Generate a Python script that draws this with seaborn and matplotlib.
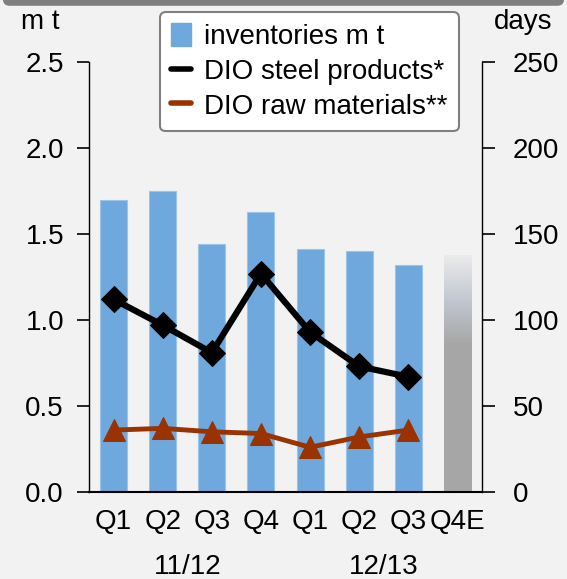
import numpy as np
import pandas as pd
import matplotlib
matplotlib.use("Agg")
import matplotlib.pyplot as plt
from matplotlib.colors import LinearSegmentedColormap
from matplotlib.lines import Line2D
from matplotlib.patches import Patch, FancyBboxPatch
import seaborn as sns

# data
quarters = ["Q1", "Q2", "Q3", "Q4", "Q1", "Q2", "Q3", "Q4E"]
inventories = [1.70, 1.75, 1.44, 1.63, 1.41, 1.40, 1.32, 1.38]
dio_steel = [112, 97, 81, 127, 93, 73, 67]
dio_raw = [36, 37, 35, 34, 26, 32, 36]
years = ["11/12", "12/13"]
year_pos = [1.5, 5.5]

BG = "#f2f2f2"
BLUE = "#6fa8dc"
RED = "#993300"
FS = 20

sns.set_style("white")
plt.rcParams["font.family"] = ["Liberation Sans", "DejaVu Sans"]
plt.rcParams["font.size"] = FS
plt.rcParams["text.color"] = "black"
plt.rcParams["xtick.color"] = "black"
plt.rcParams["ytick.color"] = "black"

fig = plt.figure(figsize=(5.67, 5.79), dpi=100, facecolor=BG)
ax = fig.add_axes([89 / 567, 87 / 579, 393 / 567, 430 / 579], facecolor=BG)

bars = pd.DataFrame({"pos": range(len(quarters)), "inv": inventories})
sns.barplot(data=bars, x="pos", y="inv", hue="pos", palette=[BLUE] * 7 + ["#a6a6a6"],
            legend=False, width=0.55, saturation=1, edgecolor="#9cc3e8", linewidth=0.8, ax=ax)

# gradient fill on the estimate bar
last = ax.patches[-1]
last.set_edgecolor("none")
cmap = LinearSegmentedColormap.from_list(
    "est", [(0, "#a6a6a6"), (0.62, "#a6a6a6"), (0.80, "#c0c6d0"), (1, "#ececec")])
grad = np.linspace(0, 1, 256).reshape(-1, 1)
img = ax.imshow(grad, cmap=cmap, origin="lower", aspect="auto",
                extent=[last.get_x(), last.get_x() + last.get_width(), 0, last.get_height()],
                zorder=last.get_zorder() + 0.1)
img.set_clip_path(last)

ax.set_ylim(0, 2.5)
ax.set_yticks([0, 0.5, 1.0, 1.5, 2.0, 2.5])
ax.set_yticklabels(["0.0", "0.5", "1.0", "1.5", "2.0", "2.5"])

ax2 = ax.twinx()
sns.lineplot(x=list(range(len(dio_steel))), y=dio_steel, ax=ax2, color="black",
             linewidth=4.5, marker="D", markersize=13, markeredgecolor="black")
sns.lineplot(x=list(range(len(dio_raw))), y=dio_raw, ax=ax2, color=RED,
             linewidth=3.5, marker="^", markersize=16, markeredgecolor=RED)
ax2.set_ylim(0, 250)
ax2.set_yticks([0, 50, 100, 150, 200, 250])
ax.set_xlim(-0.5, 7.5)
ax.set_xticks(range(len(quarters)))
ax.set_xticklabels(quarters)
ax.set_xlabel("")
ax.set_ylabel("")
ax2.set_ylabel("")

for s in ["top", "right"]:
    ax.spines[s].set_visible(False)
for s in ["top", "left", "bottom"]:
    ax2.spines[s].set_visible(False)
ax.spines["left"].set_linewidth(1.0)
ax.spines["bottom"].set_linewidth(1.5)
ax2.spines["right"].set_linewidth(1.0)
for sp in list(ax.spines.values()) + list(ax2.spines.values()):
    sp.set_color("black")

ax.tick_params(axis="y", direction="out", length=9, width=1.2, labelsize=FS, pad=9, left=True)
ax.tick_params(axis="x", length=0, labelsize=FS, pad=12)
ax2.tick_params(axis="y", direction="out", length=9, width=1.2, labelsize=FS, pad=13, right=True)

for lab, p in zip(years, year_pos):
    ax.text(p, -0.175, lab, transform=ax.get_xaxis_transform(), ha="center", va="center", fontsize=FS)

fig.text(40 / 567, 1 - 22 / 579, "m t", ha="center", va="center", fontsize=FS)
fig.text(523 / 567, 1 - 22 / 579, "days", ha="center", va="center", fontsize=FS)

handles = [
    Patch(facecolor=BLUE, edgecolor=BLUE),
    Line2D([0], [0], color="black", linewidth=4),
    Line2D([0], [0], color=RED, linewidth=4),
]
labels = ["inventories m t", "DIO steel products*", "DIO raw materials**"]
leg = fig.legend(handles, labels, loc="upper left", bbox_to_anchor=(160 / 567, 1 - 12 / 579),
                 bbox_transform=fig.transFigure, borderaxespad=0, fontsize=FS,
                 handlelength=0.7, handleheight=0.9, handletextpad=0.5, labelspacing=0.28,
                 borderpad=0.4, fancybox=True, framealpha=1, facecolor="white", edgecolor="#808080")
leg.get_frame().set_linewidth(1.5)

# dark frame edge at top of the slide
fig.patches.append(FancyBboxPatch((0.005, 0.99), 0.99, 0.05, boxstyle="round,pad=0,rounding_size=0.012",
                                  transform=fig.transFigure, facecolor="#7f7f7f", edgecolor="none"))

fig.savefig("out.png", dpi=100, facecolor=BG)
